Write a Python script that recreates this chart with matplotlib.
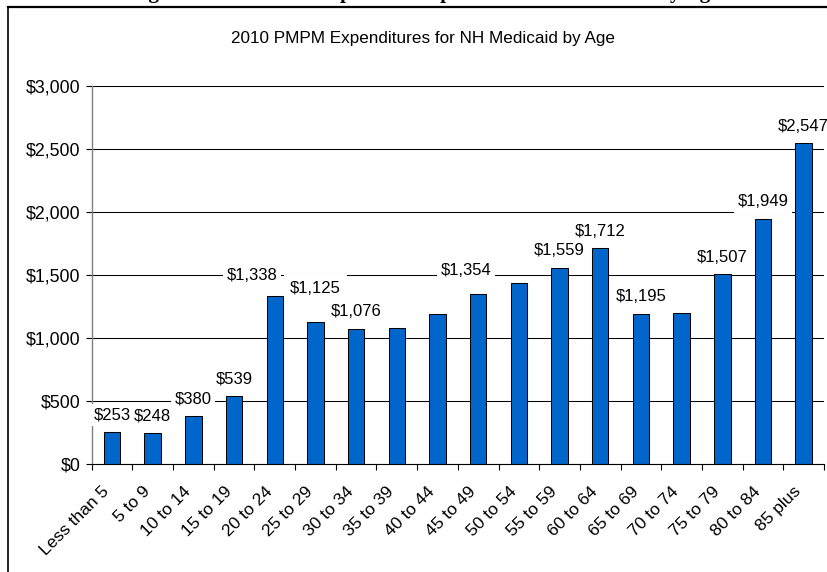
import matplotlib
matplotlib.use('Agg')
import numpy as np
import matplotlib.pyplot as plt
import matplotlib.transforms as mtransforms
from matplotlib.lines import Line2D

plt.rcParams['font.family'] = ['Liberation Sans', 'DejaVu Sans']

# PMPM expenditures by age band (2010)
ages = ['Less than 5', '5 to 9', '10 to 14', '15 to 19', '20 to 24', '25 to 29',
        '30 to 34', '35 to 39', '40 to 44', '45 to 49', '50 to 54', '55 to 59',
        '60 to 64', '65 to 69', '70 to 74', '75 to 79', '80 to 84', '85 plus']
pmpm = [253, 248, 380, 539, 1338, 1125, 1076, 1080, 1188, 1354, 1435, 1559,
        1712, 1195, 1200, 1507, 1949, 2547]
# which bars carry a data label in the original
labelled = [1, 1, 1, 1, 1, 1, 1, 0, 0, 1, 0, 1, 1, 1, 0, 1, 1, 1]

W, H = 828, 572
fig = plt.figure(figsize=(W / 100, H / 100), dpi=100)

# document caption, cropped at the top edge as in the source page
fig.text(425 / W, 1 + 2.0 / H, 'Figure 14: Medicaid Expenditures per Member Per Month by Age',
         ha='center', va='baseline', fontsize=15, fontweight='bold',
         family='Liberation Serif')

# chart area border (only left and top visible)
fig.add_artist(Line2D([8 / W, 8 / W], [0, 1 - 6.5 / H], color='black', lw=1.2))
fig.add_artist(Line2D([8 / W, 1], [1 - 6.5 / H, 1 - 6.5 / H], color='black', lw=1.6))

fig.text(423 / W, 1 - 38 / H, '2010 PMPM Expenditures for NH Medicaid by Age',
         ha='center', va='center', fontsize=12.3)

x0, x1, y0, y1 = 91.7, 824, 464.3, 86
ax = fig.add_axes([x0 / W, 1 - y0 / H, (x1 - x0) / W, (y0 - y1) / H])

x = np.arange(len(ages))
ax.bar(x, pmpm, width=0.405, color='#0066CC', edgecolor='black', linewidth=0.75, zorder=2)

ax.set_xlim(-0.5, len(ages) - 0.5)
ax.set_ylim(0, 3000)
yt = list(range(0, 3001, 500))
ax.set_yticks(yt)
ax.set_yticklabels(['${:,}'.format(v) for v in yt], fontsize=12.8)
ax.yaxis.grid(True, color='black', linewidth=0.75)
ax.set_axisbelow(True)

# ticks at category boundaries, labels at centres
ax.set_xticks(np.arange(-0.5, len(ages), 1))
ax.set_xticklabels([])
ax.set_xticks(x, minor=True)
ax.set_xticklabels(ages, minor=True, fontsize=12.5, rotation=45, ha='right',
                   va='center', rotation_mode='anchor')
ax.tick_params(axis='x', which='major', length=4, width=0.8, color='black')
ax.tick_params(axis='x', which='minor', length=0, pad=18)
ax.tick_params(axis='y', length=4, width=0.8, color='black', pad=4)
shift = mtransforms.ScaledTranslation(-5 / 100, 0, fig.dpi_scale_trans)
for lab in ax.get_xticklabels(minor=True):
    lab.set_transform(lab.get_transform() + shift)

for s in ['top', 'right']:
    ax.spines[s].set_visible(False)
ax.spines['left'].set_color('#808080')
ax.spines['left'].set_linewidth(1.0)
ax.spines['bottom'].set_color('black')
ax.spines['bottom'].set_linewidth(0.8)

# label placement tweaks (pixels) where the original labels were moved
nudge = {4: (-23, 20), 5: (0, 34), 9: (-12, 23)}
box_pad = {5: 4.5}
for i, v in enumerate(pmpm):
    if not labelled[i]:
        continue
    dx, dy = nudge.get(i, (0, 17))
    ax.annotate('${:,}'.format(v), (i, v), xytext=(dx, dy), textcoords='offset pixels',
                ha='center', va='center', fontsize=12, zorder=4, annotation_clip=False,
                bbox=dict(facecolor='white', edgecolor='none', pad=box_pad.get(i, 2.5)))

fig.savefig('out.png', dpi=100)
